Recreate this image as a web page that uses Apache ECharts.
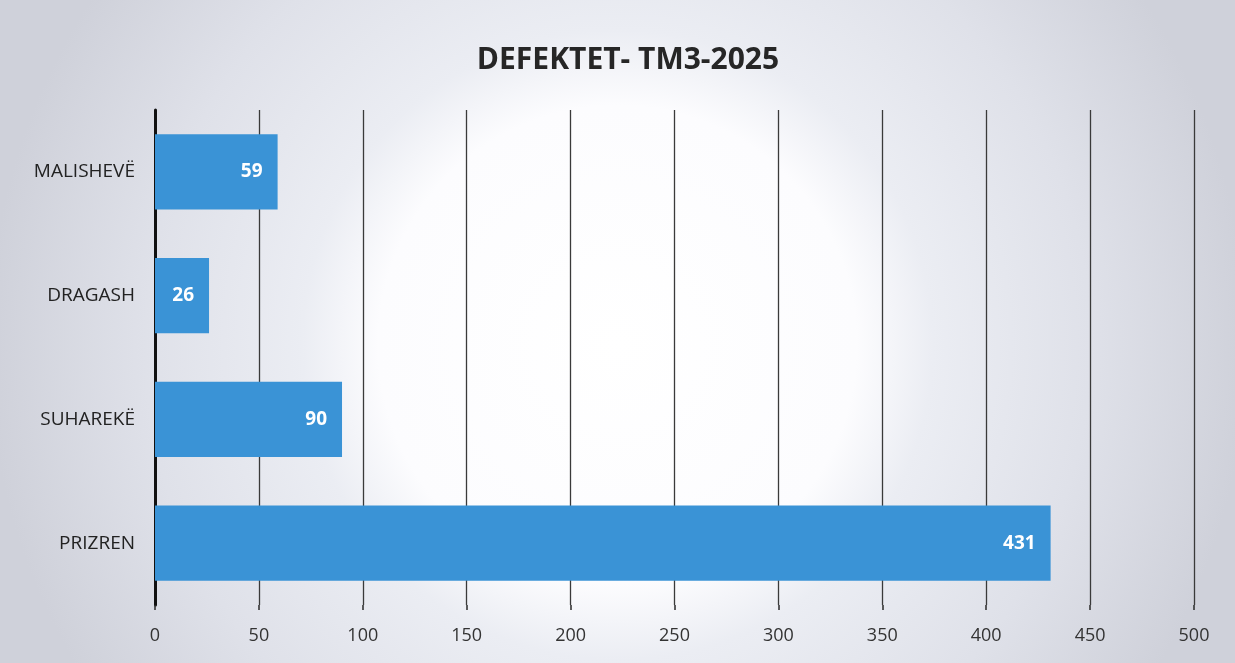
<!DOCTYPE html>
<html>
<head>
<meta charset="utf-8">
<script src="https://cdn.jsdelivr.net/npm/echarts@6/dist/echarts.min.js"></script>
<style>
  html, body { margin: 0; padding: 0; background: #fff; }
  #chart { width: 1235px; height: 663px; }
</style>
</head>
<body>
<div id="chart"></div>
<script>
// te dhenat (nga poshte lart, si ne grafikun origjinal)
var categories = ['PRIZREN', 'SUHAREKË', 'DRAGASH', 'MALISHEVË'];
var values = [431, 90, 26, 59];
var titleText = 'DEFEKTET- TM3-2025';

var myChart = echarts.init(document.getElementById('chart'));

var option = {
    backgroundColor: new echarts.graphic.RadialGradient(0.5, 0.52, 0.95, [
        { offset: 0, color: '#ffffff' },
        { offset: 0.38, color: '#fcfcfe' },
        { offset: 0.5, color: '#ebedf3' },
        { offset: 0.75, color: '#dfe1e9' },
        { offset: 1, color: '#cfd1da' }
    ]),
    animation: false,
    title: {
        text: titleText,
        left: 623,
        textAlign: 'center',
        top: 40,
        textStyle: {
            fontFamily: 'Open Sans',
            fontSize: 30,
            fontWeight: 'bold',
            color: '#262626'
        }
    },
    grid: {
        left: 155,
        right: 41,
        top: 110,
        bottom: 58,
        containLabel: false
    },
    xAxis: {
        type: 'value',
        min: 0,
        max: 500,
        interval: 50,
        axisLine: { show: false },
        axisTick: {
            show: true,
            length: 5,
            lineStyle: { color: '#2a2a2a', width: 1.5 }
        },
        splitLine: {
            show: true,
            lineStyle: { color: '#3a3a3a', width: 1.3 }
        },
        axisLabel: {
            margin: 22,
            fontFamily: 'Open Sans',
            fontSize: 18,
            color: '#333'
        }
    },
    yAxis: {
        type: 'category',
        data: categories,
        axisLine: {
            show: true,
            lineStyle: { color: '#111', width: 3 }
        },
        axisTick: { show: false },
        axisLabel: {
            margin: 20,
            fontFamily: 'Open Sans',
            fontSize: 19,
            color: '#222'
        }
    },
    series: [
        {
            type: 'bar',
            data: values,
            barCategoryGap: '39%',
            itemStyle: { color: '#3a93d6' },
            label: {
                show: true,
                position: 'insideRight',
                distance: 15,
                fontFamily: 'Open Sans',
                fontSize: 19,
                fontWeight: 'bold',
                color: '#ffffff'
            }
        }
    ]
};

myChart.setOption(option);
window.addEventListener('resize', function() {
    myChart.resize();
});
</script>
</body>
</html>
